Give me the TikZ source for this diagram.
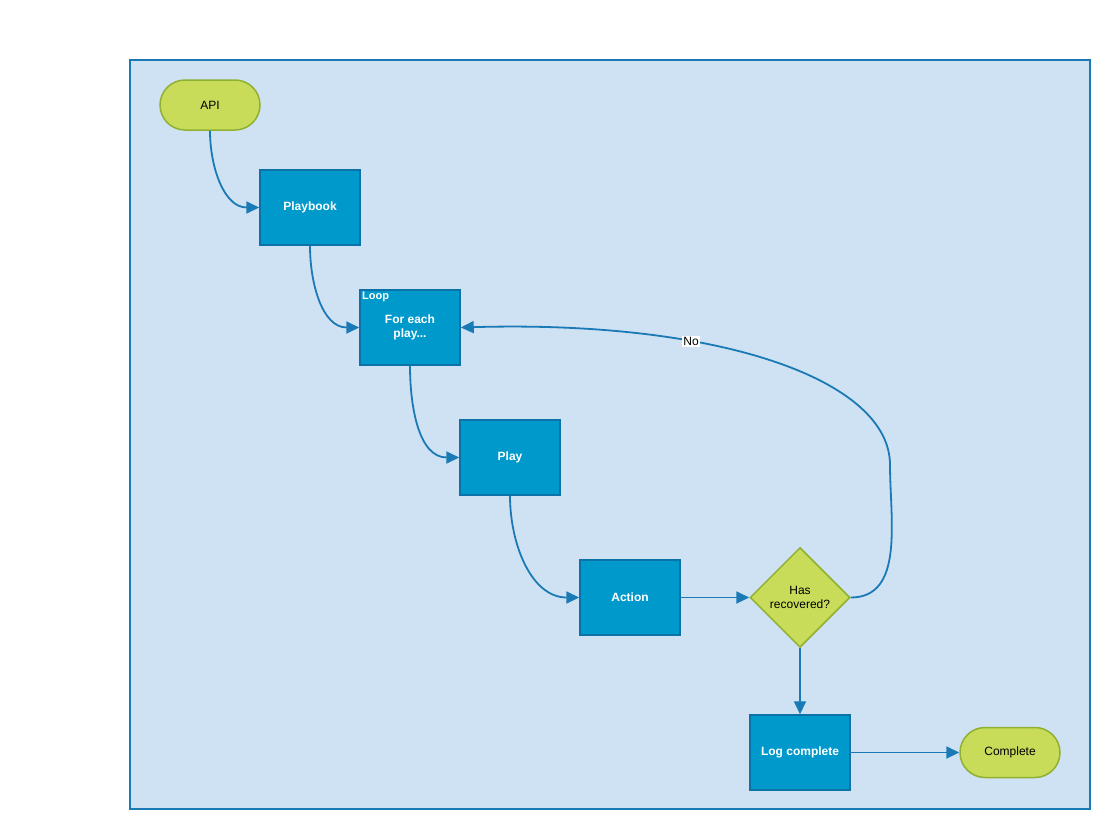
\documentclass[tikz,border=0pt]{standalone}
\usepackage{fontspec}
\setmainfont{Liberation Sans}
\usetikzlibrary{arrows.meta,shapes.geometric}
\definecolor{panel}{HTML}{CFE2F3}
\definecolor{panelline}{HTML}{1A7AB5}
\definecolor{stepfill}{HTML}{0099CC}
\definecolor{stepline}{HTML}{0D72A8}
\definecolor{termfill}{HTML}{C8DC5A}
\definecolor{termline}{HTML}{8FB030}
\definecolor{flow}{HTML}{1A7AB5}
\tikzset{
  stepbox/.style={draw=stepline, fill=stepfill, line width=1.5pt,
    minimum width=100pt, minimum height=75pt, inner sep=0pt,
    text=white, font=\fontsize{12}{14}\selectfont\bfseries, align=center},
  terminal/.style={draw=termline, fill=termfill, line width=1.5pt,
    rounded corners=25pt, minimum width=100pt, minimum height=50pt,
    inner sep=0pt, font=\fontsize{12}{14}\selectfont},
  decision/.style={diamond, draw=termline, fill=termfill, line width=1.5pt,
    minimum width=100pt, minimum height=100pt, inner sep=0pt, aspect=1,
    font=\fontsize{12}{14}\selectfont, align=center},
  flowline/.style={draw=flow, line width=1.8pt,
    -{Triangle[length=13pt,width=12pt]}},
  edgelabel/.style={fill=white, inner sep=1.5pt, font=\fontsize{12}{14}\selectfont}
}
\begin{document}
\begin{tikzpicture}[x=1pt,y=-1pt]
  \useasboundingbox (0,0) rectangle (1110,830);
  % enclosing panel
  \draw[draw=panelline, fill=panel, line width=2pt] (130,60) rectangle (1090,809);

  % nodes
  \node[terminal] (api) at (210,105) {API};
  \node[stepbox] (playbook) at (310,207.5) {Playbook};
  \node[stepbox] (loop) at (410,327.5) {For each\\play...};
  \node[anchor=north west, inner sep=0pt, text=white,
        font=\fontsize{11}{13}\selectfont\bfseries] (looptag) at (362,292) {Loop};
  \node[stepbox] (play) at (510,457.5) {Play};
  \node[stepbox] (action) at (630,597.5) {Action};
  \node[decision] (check) at (800,597.5) {Has\\recovered?};
  \node[stepbox] (log) at (800,752.5) {Log complete};
  \node[terminal] (done) at (1010,752.5) {Complete};

  % connectors
  \draw[flowline] (api.south) to[out=-90,in=180] (playbook.west);
  \draw[flowline] (playbook.south) to[out=-90,in=180] (loop.west);
  \draw[flowline] (loop.south) to[out=-90,in=180] (play.west);
  \draw[flowline] (play.south) to[out=-90,in=180] (action.west);
  \draw[flowline] (action.east) -- (check.west);
  \draw[flowline] (check.south) -- (log.north);
  \draw[flowline] (log.east) -- (done.west);

  % "No" branch back to the loop
  \coordinate (bend) at (890,465);
  \draw[flowline] (check.east) to[out=0,in=-90] (bend)
    .. controls (890,380) and (720,320) .. node[pos=0.66, edgelabel] (nolabel) {No} (loop.east);
\end{tikzpicture}
\end{document}
